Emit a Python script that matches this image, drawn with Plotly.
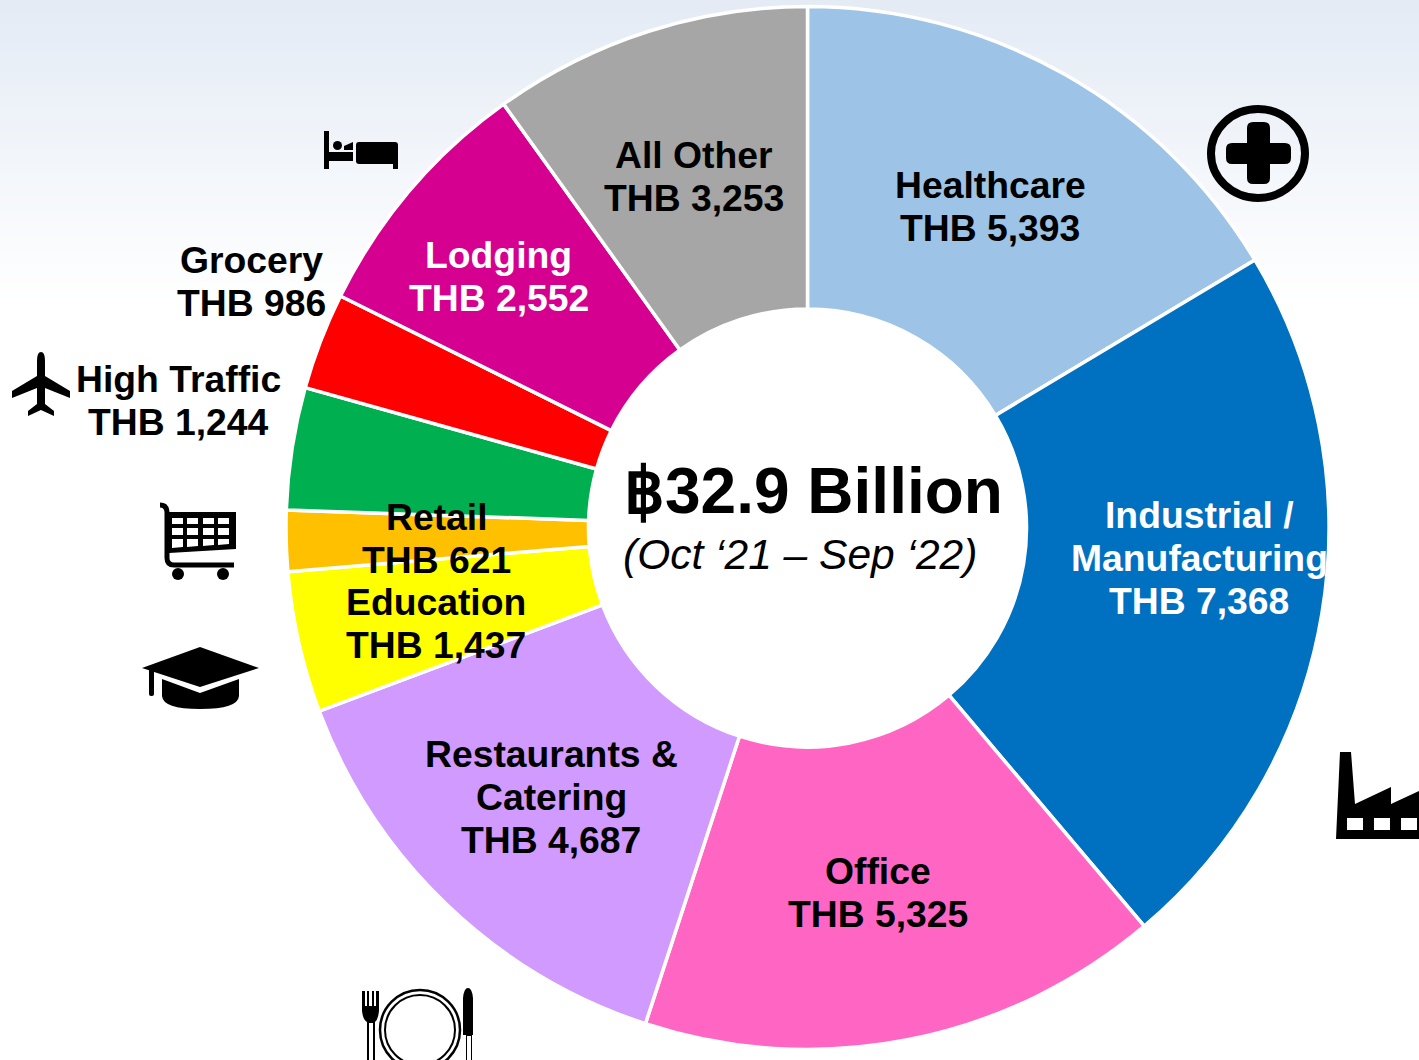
import plotly.graph_objects as go

W, H = 1419, 1060

# ---- data ----
categories = ["Healthcare", "Industrial / Manufacturing", "Office", "Restaurants & Catering",
              "Education", "Retail", "High Traffic", "Grocery", "Lodging", "All Other"]
values = [5393, 7368, 5325, 4687, 1437, 621, 1244, 986, 2552, 3253]
colors = ["#9DC3E6", "#0070C0", "#FF66C4", "#D09AFF", "#FFFF00",
          "#FFC000", "#00B050", "#FF0000", "#D5008F", "#A6A6A6"]
label_lines = [["Healthcare", "THB 5,393"],
               ["Industrial /", "Manufacturing", "THB 7,368"],
               ["Office", "THB 5,325"],
               ["Restaurants &", "Catering", "THB 4,687"],
               ["Education", "THB 1,437"],
               ["Retail", "THB 621"],
               ["High Traffic", "THB 1,244"],
               ["Grocery", "THB 986"],
               ["Lodging", "THB 2,552"],
               ["All Other", "THB 3,253"]]
label_colors = ["black", "white", "black", "black", "black", "black", "black", "black", "white", "black"]
label_xy = [(990, 185), (1199, 515), (878, 871), (551, 754), (436, 602),
            (436.5, 517), (178.5, 379), (251.5, 260), (498.5, 255), (694, 155)]
line_step = 43
total_text = "฿32.9 Billion"
period_text = "(Oct ‘21 – Sep ‘22)"

FONT = "Liberation Sans"


def fx(x):
    return x / W


def fy(y):
    return 1 - y / H


def path(*items):
    """items: ('M',x,y), ('L',x,y), ('Q',x1,y1,x,y), ('Z',)"""
    out = []
    for it in items:
        c = it[0]
        nums = it[1:]
        pts = []
        for i in range(0, len(nums), 2):
            pts.append(f"{fx(nums[i]):.5f},{fy(nums[i + 1]):.5f}")
        out.append(c + " ".join(pts))
    return " ".join(out)


def poly(pts):
    s = [("M", *pts[0])] + [("L", *p) for p in pts[1:]] + [("Z",)]
    return s


def rrect(x0, y0, x1, y1, r):
    return [("M", x0 + r, y0), ("L", x1 - r, y0), ("Q", x1, y0, x1, y0 + r),
            ("L", x1, y1 - r), ("Q", x1, y1, x1 - r, y1), ("L", x0 + r, y1),
            ("Q", x0, y1, x0, y1 - r), ("L", x0, y0 + r), ("Q", x0, y0, x0 + r, y0), ("Z",)]


shapes = []

# background gradient (light blue fading into white)
top = (228, 235, 245)
band = 6
grad_end = 300
for y in range(0, grad_end, band):
    t = (y / grad_end)
    c = tuple(round(a + (255 - a) * t) for a in top)
    shapes.append(dict(type="rect", xref="paper", yref="paper", layer="below",
                       x0=0, x1=1, y0=fy(y + band), y1=fy(y),
                       fillcolor=f"rgb{c}", line_width=0))


def solid(items, evenodd=False):
    d = dict(type="path", xref="paper", yref="paper", layer="above",
             path=path(*items), fillcolor="black", line_width=0)
    if evenodd:
        d["fillrule"] = "evenodd"
    shapes.append(d)


def oval(x0, y0, x1, y1, lw=0, fill=None):
    d = dict(type="circle", xref="paper", yref="paper", layer="above",
             x0=fx(x0), x1=fx(x1), y0=fy(y1), y1=fy(y0))
    if lw:
        d["line"] = dict(color="black", width=lw)
    else:
        d["line_width"] = 0
    d["fillcolor"] = fill if fill else "rgba(0,0,0,0)"
    shapes.append(d)


# health icon
oval(1211, 109, 1305, 198, lw=8)
solid(rrect(1247, 122, 1270, 184, 6))
solid(rrect(1226, 143, 1291, 164, 6))

# factory icon
fact = poly([(1340, 752), (1351, 752), (1355, 804), (1391, 787), (1391, 804), (1419, 791),
             (1419, 839), (1336, 839)])
for x0, x1 in [(1347, 1363), (1374, 1390), (1401, 1417)]:
    fact += poly([(x0, 818), (x1, 818), (x1, 830), (x0, 830)])
solid(fact, evenodd=True)

# plane icon
solid([("M", 41, 352), ("Q", 45, 352, 45, 361), ("L", 45, 376), ("L", 70, 391), ("L", 70, 398),
       ("L", 45, 388), ("L", 45, 404), ("L", 54, 411), ("L", 54, 416), ("L", 41, 410),
       ("L", 28, 416), ("L", 28, 411), ("L", 37, 404), ("L", 37, 388), ("L", 12, 398),
       ("L", 12, 391), ("L", 37, 376), ("L", 37, 361), ("Q", 37, 352, 41, 352), ("Z",)])

# bed icon
solid(poly([(324, 131), (329, 131), (329, 152), (353, 152), (353, 161), (329, 161), (329, 169), (324, 169)]))
oval(333, 141, 342, 150, fill="black")
solid(poly([(344, 146), (353, 142), (353, 150), (344, 150)]))
solid(rrect(356, 142, 398, 164, 3))
solid(poly([(393, 160), (398, 160), (398, 169), (393, 169)]))

# cart icon
shapes.append(dict(type="path", xref="paper", yref="paper", layer="above",
                   path=path(("M", 160, 505), ("Q", 167, 505, 167, 513), ("L", 167, 558),
                             ("Q", 167, 565, 174, 565), ("L", 234, 565)),
                   line=dict(color="black", width=5), fillcolor="rgba(0,0,0,0)"))
basket = poly([(169, 512), (236, 512), (236, 549), (169, 553)])
for cx0, cx1 in [(172, 183), (187, 198), (203, 214), (218, 229)]:
    for ry0, ry1 in [(518, 524), (528, 535)]:
        basket += poly([(cx0, ry0), (cx1, ry0), (cx1, ry1), (cx0, ry1)])
basket += poly([(172, 539), (183, 539), (183, 547), (172, 548)])
basket += poly([(187, 539), (198, 539), (198, 546), (187, 547)])
basket += poly([(203, 539), (214, 539), (214, 545), (203, 546)])
basket += poly([(218, 539), (229, 539), (229, 544), (218, 545)])
solid(basket, evenodd=True)
oval(172, 568, 184, 580, fill="black")
oval(217, 568, 229, 580, fill="black")

# graduation cap icon
solid(poly([(142, 668), (200, 647), (259, 668), (200, 687)]))
solid(rrect(149, 668, 154, 696, 2))
solid([("M", 162, 679), ("L", 200, 693), ("L", 239, 679), ("L", 239, 696),
       ("Q", 238, 709, 200, 709), ("Q", 163, 709, 162, 696), ("Z",)])

# cutlery icon
fork = [("M", 362, 991), ("L", 365, 991), ("L", 365, 1006), ("L", 367, 1006), ("L", 367, 991),
        ("L", 369, 991), ("L", 369, 1006), ("L", 372, 1006), ("L", 372, 991), ("L", 374, 991),
        ("L", 374, 1006), ("L", 376, 1006), ("L", 376, 991), ("L", 379, 991), ("L", 379, 1011),
        ("Q", 378, 1020, 375, 1022), ("L", 375, 1060), ("L", 373, 1060), ("L", 373, 1023),
        ("L", 369, 1023), ("L", 369, 1060), ("L", 367, 1060), ("L", 367, 1022),
        ("Q", 363, 1020, 362, 1011), ("Z",)]
solid(fork)
oval(380, 990, 460, 1070, lw=2.5)
oval(385, 995, 455, 1065, lw=2)
solid([("M", 463, 998), ("Q", 464, 988, 468, 988), ("Q", 472, 988, 473, 998), ("L", 473, 1035),
       ("L", 472, 1035), ("L", 472, 1060), ("L", 471, 1060), ("L", 471, 1036), ("L", 467, 1036),
       ("L", 467, 1060), ("L", 466, 1060), ("L", 466, 1035), ("L", 463, 1035), ("Z",)])

annotations = []


def text(s, x, y, size, color="black", weight=700, style="normal"):
    annotations.append(dict(text=s, x=fx(x), y=fy(y), xref="paper", yref="paper",
                            xanchor="center", yanchor="middle", showarrow=False,
                            font=dict(family=FONT, size=size, color=color, weight=weight, style=style)))


for lines, col, (lx, ly) in zip(label_lines, label_colors, label_xy):
    for i, ln in enumerate(lines):
        text(ln, lx, ly + i * line_step, 37.3, color=col)

text(total_text, 813, 491, 64)
text(period_text, 800, 554.5, 42.5, weight=400, style="italic")

fig = go.Figure(go.Pie(
    labels=categories, values=values, sort=False, direction="clockwise", rotation=0,
    hole=0.42, textinfo="none", hoverinfo="label+value",
    marker=dict(colors=colors, line=dict(color="white", width=3.5)),
    domain=dict(x=[fx(286), fx(1329)], y=[fy(1049.5), fy(6.5)]),
    showlegend=False,
))
fig.update_layout(width=W, height=H, margin=dict(l=0, r=0, t=0, b=0), autosize=False,
                  paper_bgcolor="white", plot_bgcolor="white",
                  shapes=shapes, annotations=annotations, font=dict(family=FONT))
fig.write_html("out.html", config=dict(displayModeBar=False),
               post_script="document.body.style.margin='0';document.body.style.overflow='hidden';")
